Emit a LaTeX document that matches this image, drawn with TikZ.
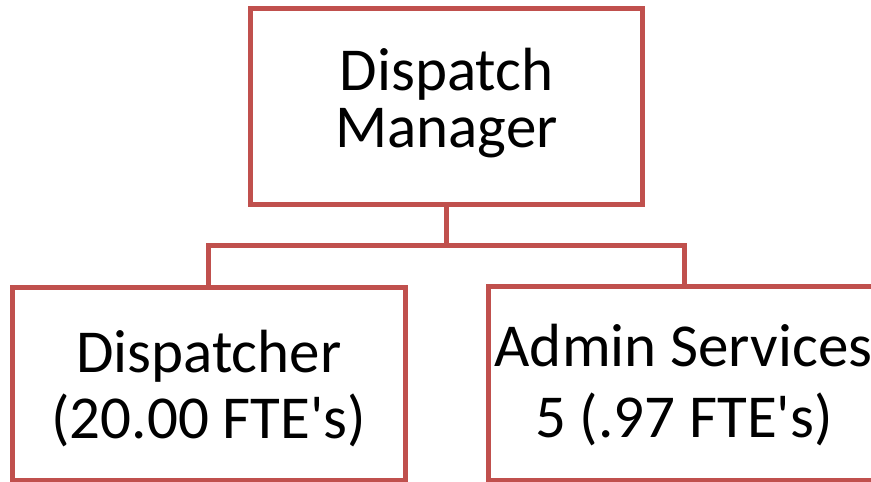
\documentclass[tikz,border=0pt]{standalone}
\usepackage{fontspec}
\newfontfamily\calfont{Carlito}
\definecolor{boxred}{HTML}{C0504D}
\begin{document}
\begin{tikzpicture}[x=1pt,y=-1pt,
  box/.style={draw=boxred,line width=5pt,fill=white,inner sep=0pt,minimum width=392.5pt},
  txt/.style={anchor=base,inner sep=0pt,font=\calfont\fontsize{61}{61}\selectfont,text=black},
  conn/.style={draw=boxred,line width=5pt}]
\clip (0,0) rectangle (871,482);
\node[box,minimum height=195.3pt] (mgr) at (446.5,106.4) {};
\node[box,minimum height=193.5pt] (disp) at (208.75,383.75) {};
\node[box,minimum height=194pt] (admin) at (684.25,383.5) {};
\coordinate (bus) at (446.5,245);
\draw[conn] (mgr.south) -- (bus);
\draw[conn] (disp.north) |- (bus) -| (admin.north);
\node[txt] (t1) at (446.5,90) {Dispatch};
\node[txt] (t2) at (446.5,147) {Manager};
\node[txt] (t3) at (208.75,372.7) {Dispatcher};
\node[txt] (t4) at (208.75,438.3) {(20.00 FTE's)};
\node[txt] (t5) at (683.5,366) {Admin Services};
\node[txt] (t6) at (684,437) {5 (.97 FTE's)};
\end{tikzpicture}
\end{document}
